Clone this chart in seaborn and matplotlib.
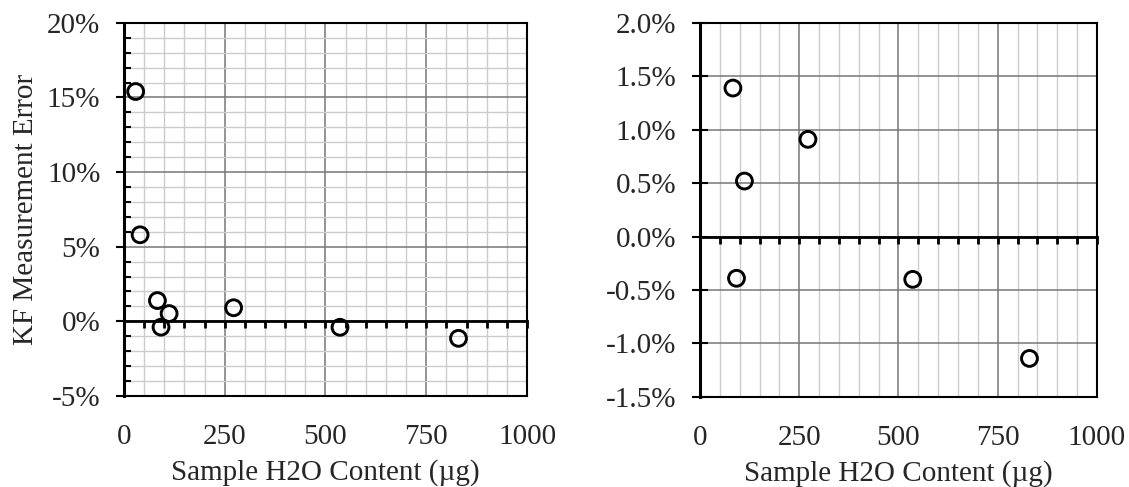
import matplotlib
matplotlib.use("Agg")
import matplotlib.pyplot as plt
import seaborn as sns
import pandas as pd
from matplotlib.ticker import MultipleLocator, PercentFormatter, NullFormatter

# sample water content (ug) and KF measurement error (%)
h2o_ug = [29, 40, 83, 92, 112, 272, 536, 830]
error_pct = [15.4, 5.8, 1.39, -0.39, 0.52, 0.91, -0.40, -1.14]

x_label = "Sample H2O Content (\u00b5g)"
y_label = "KF Measurement Error"

df = pd.DataFrame({"h2o": h2o_ug, "err": error_pct})

sns.set_style("ticks")
plt.rcParams["font.family"] = ["Liberation Serif", "DejaVu Serif"]
plt.rcParams["axes.unicode_minus"] = False

FS = 21
fig = plt.figure(figsize=(11.29, 4.87), dpi=100)

ax_left = fig.add_axes([0.1098, 0.187, 0.357, 0.766])
ax_right = fig.add_axes([0.620, 0.185, 0.3516, 0.768])


def style_panel(ax, ylim, ymajor, yminor, decimals, ytick_dir):
    sns.scatterplot(
        data=df, x="h2o", y="err", ax=ax,
        marker="o", s=130, facecolor="none",
        edgecolor="black", linewidth=2.1, zorder=5
    )
    ax.set_xlim(0, 1000)
    ax.set_ylim(*ylim)

    ax.xaxis.set_major_locator(MultipleLocator(250))
    ax.xaxis.set_minor_locator(MultipleLocator(50))
    ax.yaxis.set_major_locator(MultipleLocator(ymajor))
    ax.yaxis.set_major_formatter(PercentFormatter(xmax=100, decimals=decimals))

    ax.xaxis.grid(True, which="major", color="#777777", linewidth=1.1)
    ax.xaxis.grid(True, which="minor", color="#cccccc", linewidth=1.0)
    ax.yaxis.grid(True, which="major", color="#777777", linewidth=1.1)
    if yminor:
        ax.yaxis.set_minor_locator(MultipleLocator(yminor))
        ax.yaxis.grid(True, which="minor", color="#cccccc", linewidth=1.0)
        ax.tick_params(axis="y", which="minor", direction="in",
                       length=5, width=1.5, color="black")
    ax.set_axisbelow(True)

    ax.tick_params(axis="x", which="both", length=0, pad=20, labelsize=FS)
    ax.tick_params(axis="y", which="major", direction=ytick_dir,
                   length=6 if ytick_dir == "out" else 12, width=1.5,
                   pad=11, labelsize=FS, color="black")

    for side in ["top", "right", "bottom"]:
        ax.spines[side].set_linewidth(1.5)
        ax.spines[side].set_color("black")
    ax.spines["left"].set_linewidth(2.2)
    ax.spines["left"].set_color("black")

    ax.set_xlabel(x_label, fontsize=FS, labelpad=7)
    ax.set_ylabel("")

    # zero line with its own tick marks, Excel-style axis crossing at 0
    zero = ax.twiny()
    zero.set_xlim(ax.get_xlim())
    zero.xaxis.set_ticks_position("bottom")
    zero.spines["bottom"].set_position(("data", 0))
    zero.spines["bottom"].set_linewidth(2.0)
    zero.spines["bottom"].set_color("black")
    for side in ["top", "right", "left"]:
        zero.spines[side].set_visible(False)
    zero.xaxis.set_major_locator(MultipleLocator(50))
    zero.xaxis.set_major_formatter(NullFormatter())
    zero.tick_params(axis="x", which="major", direction="out",
                     length=5, width=2.0, color="black")
    zero.set_zorder(ax.get_zorder() + 1)


style_panel(ax_left, (-5, 20), 5, 1, 0, "out")
style_panel(ax_right, (-1.5, 2.0), 0.5, None, 1, "inout")

ax_left.set_ylabel(y_label, fontsize=FS, labelpad=6)

fig.savefig("out.png", dpi=100)
